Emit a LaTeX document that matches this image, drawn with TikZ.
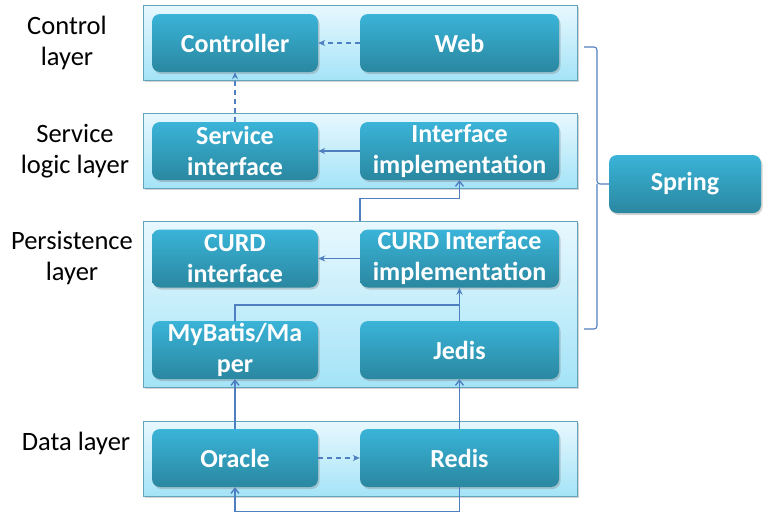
\documentclass[tikz,border=0pt]{standalone}
\usepackage{fontspec}
\setmainfont{Carlito}
\usetikzlibrary{arrows.meta,shadows,calc}
\definecolor{linec}{HTML}{4F7FC0}
\definecolor{innertop}{HTML}{3AB4D8}
\definecolor{innerbot}{HTML}{2A87A0}
\definecolor{outertop}{HTML}{E8F8FE}
\definecolor{outerbot}{HTML}{A4E3F7}
\definecolor{outerdraw}{HTML}{62A3BE}
\tikzset{
  x=1pt,y=-1pt,
  layerbox/.style={draw=outerdraw, line width=1pt, top color=outertop, bottom color=outerbot,
    minimum width=434pt, inner sep=0pt,
    drop shadow={opacity=0.35, shadow xshift=1.5pt, shadow yshift=-2pt}},
  comp/.style={rounded corners=8pt, top color=innertop, bottom color=innerbot, text=white,
    font=\fontsize{26}{31}\selectfont\bfseries, align=center, inner sep=0pt,
    minimum height=58pt,
    drop shadow={opacity=0.35, shadow xshift=1.5pt, shadow yshift=-2pt}},
  lcomp/.style={comp, minimum width=166pt},
  rcomp/.style={comp, minimum width=199pt},
  lbl/.style={font=\fontsize{26.5}{31}\selectfont, align=center, inner sep=0pt, text=black},
  conn/.style={draw=linec, line width=1.4pt},
  arr/.style={conn, -{Stealth[length=7pt,width=6pt]}},
  oarr/.style={conn, -{Straight Barb[length=5pt,width=8pt]}},
  dsh/.style={dash pattern=on 5pt off 4pt},
}
\begin{document}
\begin{tikzpicture}
\useasboundingbox (0,0) rectangle (764,512);
% layer boxes
\node[layerbox, minimum height=75pt] (ctl) at (360,42.5) {};
\node[layerbox, minimum height=75pt] (svc) at (360,150.5) {};
\node[layerbox, minimum height=166pt] (pers) at (360,304) {};
\node[layerbox, minimum height=75pt] (dat) at (360,458.5) {};
% labels
\node[lbl] (lctl) at (67,43) {Control\\layer};
\node[lbl] (lsvc) at (75,151) {Service\\logic layer};
\node[lbl] (lpers) at (72,258) {Persistence\\layer};
\node[lbl] (ldat) at (76,443) {Data layer};
% components
\node[lcomp] (ctrl) at (235,43) {Controller};
\node[rcomp] (web) at (459.5,43) {Web};
\node[lcomp] (sint) at (235,151) {Service\\interface};
\node[rcomp] (iimpl) at (459.5,151) {Interface\\implementation};
\node[lcomp] (cint) at (235,258.5) {CURD\\interface};
\node[rcomp] (cimpl) at (459.5,258.5) {CURD Interface\\implementation};
\node[lcomp] (myb) at (235,350) {MyBatis/Ma\\per};
\node[rcomp] (jedis) at (459.5,350) {Jedis};
\node[lcomp] (oracle) at (235,458) {Oracle};
\node[rcomp] (redis) at (459.5,458) {Redis};
\node[comp, minimum width=152pt] (spring) at (685,184) {Spring};
% connectors
\draw[arr,dsh] (web.west) -- (ctrl.east);
\draw[arr,dsh] (sint.north) -- (ctrl.south);
\draw[arr] (iimpl.west) -- (sint.east);
\draw[oarr] (pers.north -| cimpl.west) -- ++(0,-22) -| (iimpl.south);
\draw[arr] (cimpl.west) -- (cint.east);
\draw[arr] (myb.north) -- ++(0,-16) -| (cimpl.south);
\draw[conn] (jedis.north) -- (cimpl.south);
\draw[oarr] (oracle.north) -- (myb.south);
\draw[oarr] (redis.north) -- (jedis.south);
\draw[arr,dsh] (oracle.east) -- (redis.west);
\coordinate (lb) at (459.5,512);
\draw[oarr] (redis.south) -- (lb) -| (oracle.south);
% brace
\coordinate (bt) at (584,47);
\coordinate (bb) at (584,329);
\draw[conn, line width=1.1pt, rounded corners=3pt] (bt) -- (597,47) -- (597,184) -- (spring.west);
\draw[conn, line width=1.1pt, rounded corners=3pt] (bb) -- (597,329) -- (597,184);
\end{tikzpicture}
\end{document}
